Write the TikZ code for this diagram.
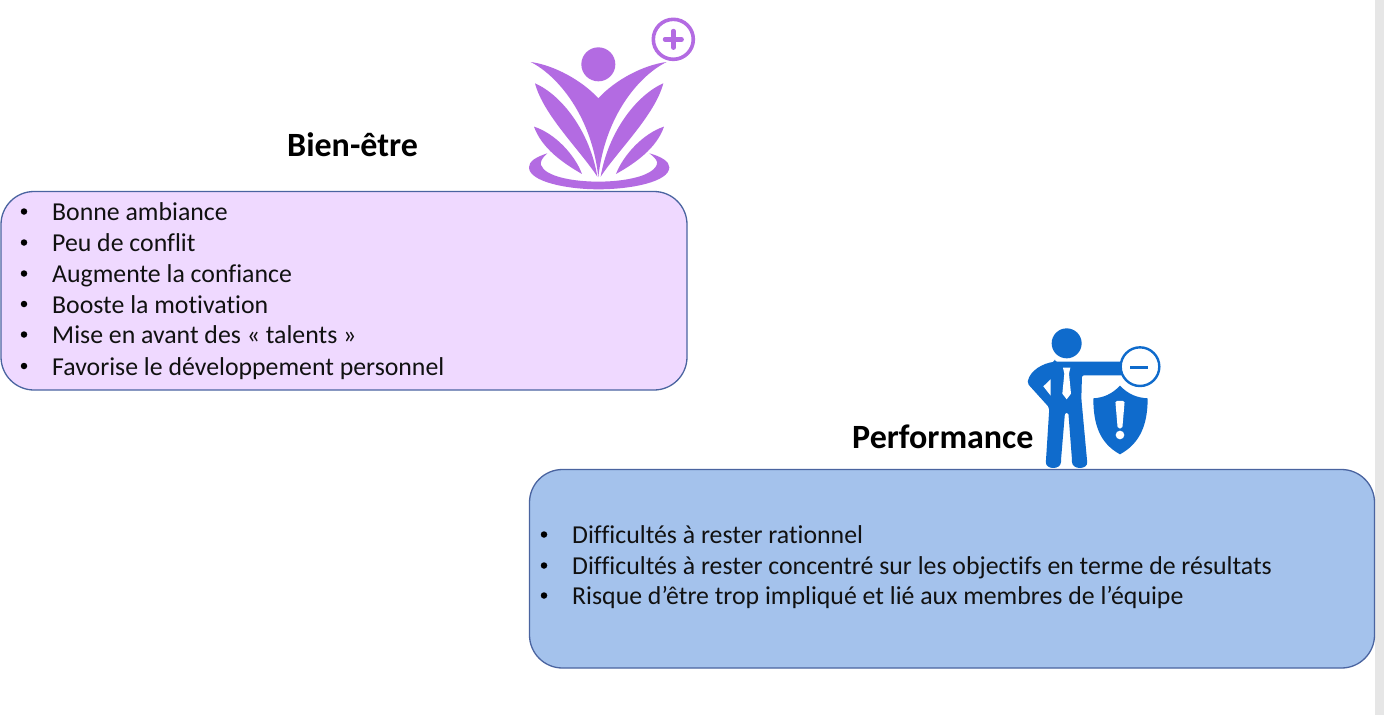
\documentclass[tikz,border=0pt]{standalone}
\usepackage{fontspec}
\setmainfont[RawFeature={-liga;-clig;-dlig}]{Carlito}
\definecolor{violetA}{HTML}{B36BE2}
\definecolor{blueA}{HTML}{0F6BCC}
\definecolor{boxP}{HTML}{EFD9FF}
\definecolor{boxB}{HTML}{A4C2EC}
\definecolor{edgeB}{HTML}{4A64A0}
\definecolor{inkT}{HTML}{111111}
\definecolor{stripG}{HTML}{E6E6E6}
\tikzset{
  panel/.style={draw=edgeB,line width=1.3pt,rounded corners=33pt},
  item/.style={anchor=base west,inner sep=0pt,text=inkT,font=\fontsize{25.8}{30}\selectfont},
  dot/.style={fill=black,draw=none,circle,inner sep=0pt,minimum size=6.5pt},
  title/.style={anchor=base west,inner sep=0pt,text=black,font=\fontsize{34}{40}\selectfont\bfseries},
  iconP/.style={fill=violetA,draw=none},
  iconB/.style={fill=blueA,draw=none}
}
\newcommand{\bulletline}[5]{%
  \node[dot] (#1b) at (#5,#3-8.5) {};
  \node[item] (#1) at (#2,#3+0.7) {#4};}
\begin{document}
\begin{tikzpicture}[x=1pt,y=-1pt]
\useasboundingbox (0,0) rectangle (1384,715);
\fill[white] (0,0) rectangle (1384,715);
\fill[stripG] (1375,0) rectangle (1384,715);
% panels
\path[panel,fill=boxP] (1,191.5) rectangle (687,390);
\path[panel,fill=boxB] (529.5,469.5) rectangle (1374.5,668);
% titles
\node[title] (t1) at (287,156.7) {Bien-être};
\node[title] (t2) at (852,448.7) {Performance};
% lists
\bulletline{a1}{52}{220}{Bonne ambiance}{24}
\bulletline{a2}{52}{251}{Peu de conflit}{24}
\bulletline{a3}{52}{282}{Augmente la confiance}{24}
\bulletline{a4}{52}{312.5}{Booste la motivation}{24}
\bulletline{a5}{52}{343}{Mise en avant des « talents »}{24}
\bulletline{a6}{52}{374.5}{Favorise le développement personnel}{24}
\bulletline{b1}{572}{543}{Difficultés à rester rationnel}{544}
\bulletline{b2}{572}{574}{Difficultés à rester concentré sur les objectifs en terme de résultats}{544}
\bulletline{b3}{572}{604}{Risque d’être trop impliqué et lié aux membres de l’équipe}{544}
% wellbeing icon
\begin{scope}[shift={(510,0)},x=0.3333pt,y=-0.3333pt]
\fill[iconP] (265,193) circle (51);
\draw[violetA,line width=3.6pt,fill=white] (490,118) circle (60);
\draw[violetA,line width=4.4pt,line cap=round] (465,118) -- (515,118) (490,93) -- (490,143);
\fill[iconP] (62,186) .. controls (130,195) and (215,240) .. (265,295)
  .. controls (315,240) and (400,195) .. (470,186)
  .. controls (390,225) and (285,345) .. (265,532)
  .. controls (245,345) and (140,225) .. (62,186) -- cycle;
\fill[iconP] (75,250) .. controls (155,285) and (240,395) .. (262,530)
  .. controls (210,450) and (100,345) .. (75,250) -- cycle;
\fill[iconP] (460,250) .. controls (380,285) and (295,395) .. (272,530)
  .. controls (325,450) and (435,345) .. (460,250) -- cycle;
\fill[iconP] (72,380) .. controls (135,400) and (195,465) .. (216,522)
  .. controls (160,490) and (95,445) .. (72,380) -- cycle;
\fill[iconP] (462,380) .. controls (400,400) and (340,465) .. (318,522)
  .. controls (375,490) and (440,445) .. (462,380) -- cycle;
\fill[iconP] (112,460) .. controls (75,472) and (57,485) .. (57,502)
  .. controls (57,545) and (170,568) .. (265,568)
  .. controls (365,568) and (478,545) .. (478,502)
  .. controls (478,485) and (455,470) .. (418,460)
  .. controls (438,475) and (445,485) .. (440,495)
  .. controls (425,530) and (340,545) .. (265,545)
  .. controls (190,545) and (105,530) .. (93,495)
  .. controls (90,485) and (97,473) .. (112,460) -- cycle;
\end{scope}
% performance icon
\begin{scope}[shift={(1010,315)},x=0.3333pt,y=-0.3333pt]
\fill[iconB] (170,85) circle (45);
\fill[iconB,rounded corners=2pt] (135,140) -- (340,140) -- (340,181) -- (216,181) -- (214,250)
  -- (231,435) .. controls (234,465) and (186,465) .. (186,435)
  -- (175,292) -- (165,292) -- (153,435) .. controls (153,465) and (106,465) .. (108,435)
  -- (118,278) -- (52,205) .. controls (60,165) and (100,145) .. (135,140) -- cycle;
\fill[white] (122,193) -- (100,214) -- (122,242) -- cycle;
\fill[white] (159,158) -- (181,158) -- (177,176) -- (183,236) -- (170,253) -- (157,236) -- (163,176) -- cycle;
\draw[blueA,line width=2.4pt,fill=white] (390,155) circle (58);
\draw[blueA,line width=2.8pt] (360,157) -- (415,157);
\fill[iconB] (330,212) .. controls (305,238) and (280,248) .. (250,250)
  .. controls (250,330) and (270,385) .. (330,418)
  .. controls (390,385) and (413,330) .. (413,250)
  .. controls (380,248) and (355,238) .. (330,212) -- cycle;
\fill[white,rounded corners=1.5pt] (316,258) -- (344,258) -- (337,340) -- (323,340) -- cycle;
\fill[white] (330,360) circle (13);
\end{scope}
\end{tikzpicture}
\end{document}
